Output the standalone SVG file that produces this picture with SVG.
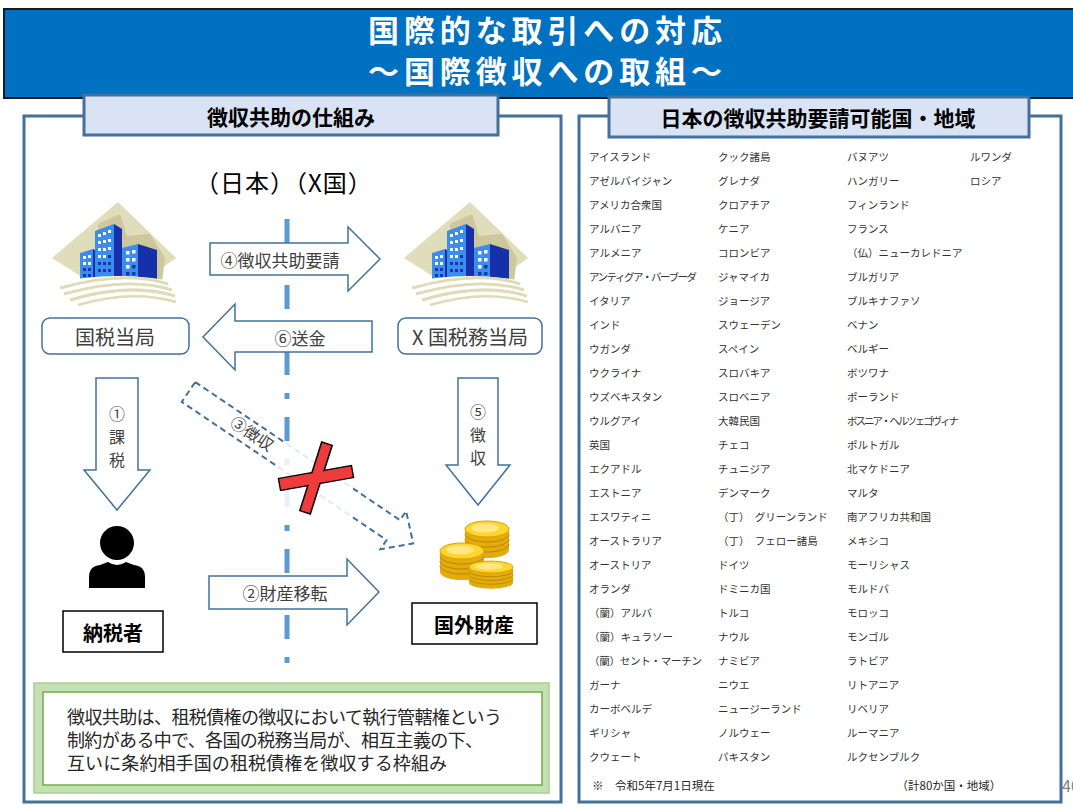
<svg xmlns="http://www.w3.org/2000/svg" xmlns:xlink="http://www.w3.org/1999/xlink" width="1073" height="810" viewBox="0 0 1073 810">
  <style>
    text { font-family: "Noto Sans CJK JP", "Noto Sans", sans-serif; dominant-baseline: central; }
    .title { fill: #FFFFFF; font-weight: bold; font-size: 31px; text-anchor: middle; }
    .tab-box { fill: #DAE3F3; stroke: #41719C; stroke-width: 3; }
    .tab-text { fill: #000000; font-weight: bold; font-size: 21px; text-anchor: middle; }
    .panel { fill: none; stroke: #41719C; stroke-width: 3; }
    .block-arrow { fill: #FFFFFF; stroke: #41719C; stroke-width: 1.5; stroke-linejoin: miter; }
    .arrow-label { fill: #404040; font-size: 17px; text-anchor: middle; }
    .v-label { fill: #404040; font-size: 16px; text-anchor: middle; }
    .label-box { fill: #FFFFFF; stroke: #41719C; stroke-width: 1.5; }
    .label-text { fill: #404040; font-size: 20px; text-anchor: middle; }
    .plain-box { fill: #FFFFFF; stroke: #000000; stroke-width: 1.5; }
    .plain-text { fill: #000000; font-size: 20px; font-weight: bold; text-anchor: middle; }
    .country { fill: #333333; font-size: 10.5px; }
    .note { fill: #262626; font-size: 18px; }
    .win { fill: #FFFFFF; }
    .win-d { fill: #1A35B0; }
  </style>
  <defs>
    <!-- office building pictogram, drawn at the left position -->
    <g id="office-icon">
      <polygon points="118,202 176,258 118,300 52,258" fill="#E0DDBB"/>
      <path d="M98,224 L120,214 L127,236 L150,234 L165,258 L162,282 L98,282 Z" fill="#CCC89C"/>
      <!-- left block -->
      <polygon points="80,253 93,249 93,281 80,281" fill="#3C8CF0"/>
      <polygon points="93,249 97,251 97,281 93,281" fill="#1530A8"/>
      <rect class="win" x="83" y="256" width="3" height="3"/><rect class="win" x="88" y="255" width="3" height="3"/>
      <rect class="win" x="83" y="262" width="3" height="3"/><rect class="win" x="88" y="262" width="3" height="3"/>
      <rect class="win-d" x="83" y="268" width="3" height="3"/><rect class="win-d" x="88" y="268" width="3" height="3"/>
      <rect class="win-d" x="83" y="274" width="3" height="3"/><rect class="win-d" x="88" y="274" width="3" height="3"/>
      <!-- tall block -->
      <polygon points="95,231 114,224 114,281 95,281" fill="#3C8CF0"/>
      <polygon points="114,224 122,229 122,281 114,281" fill="#1530A8"/>
      <rect class="win" x="98" y="234" width="3" height="3"/><rect class="win" x="103" y="232" width="3" height="3"/><rect class="win" x="108" y="230" width="3" height="3"/>
      <rect class="win" x="98" y="241" width="3" height="3"/><rect class="win" x="103" y="240" width="3" height="3"/><rect class="win" x="108" y="239" width="3" height="3"/>
      <rect class="win" x="98" y="248" width="3" height="3"/><rect class="win" x="103" y="248" width="3" height="3"/><rect class="win" x="108" y="247" width="3" height="3"/>
      <rect class="win" x="98" y="255" width="3" height="3"/><rect class="win" x="103" y="255" width="3" height="3"/><rect class="win-d" x="108" y="255" width="3" height="3"/>
      <rect class="win-d" x="98" y="262" width="3" height="3"/><rect class="win-d" x="103" y="262" width="3" height="3"/><rect class="win-d" x="108" y="262" width="3" height="3"/>
      <rect class="win-d" x="98" y="269" width="3" height="3"/><rect class="win-d" x="103" y="269" width="3" height="3"/><rect class="win-d" x="108" y="269" width="3" height="3"/>
      <!-- right block -->
      <polygon points="122,248 138,244 138,281 122,281" fill="#3C8CF0"/>
      <polygon points="138,244 157,250 157,282 138,281" fill="#1530A8"/>
      <rect class="win" x="126" y="251" width="3.5" height="3.5"/><rect class="win" x="132" y="250" width="3.5" height="3.5"/>
      <rect class="win" x="126" y="258" width="3.5" height="3.5"/><rect class="win" x="132" y="258" width="3.5" height="3.5"/>
      <rect class="win" x="126" y="265" width="3.5" height="3.5"/><rect class="win-d" x="132" y="265" width="3.5" height="3.5"/>
      <rect class="win-d" x="126" y="272" width="3.5" height="3.5"/><rect class="win-d" x="132" y="272" width="3.5" height="3.5"/>
      <!-- ground -->
      <path d="M50,300 L50,284 Q118,268 186,284 L186,300 Z" fill="#FFFFFF"/>
      <path d="M60,288 Q125,270 168,284" fill="none" stroke="#DEDBB6" stroke-width="3"/>
      <path d="M64,294 Q128,276 172,290" fill="none" stroke="#DEDBB6" stroke-width="3"/>
      <path d="M70,300 Q130,282 175,296" fill="none" stroke="#DEDBB6" stroke-width="3"/>
      <path d="M78,305 Q132,289 176,302" fill="none" stroke="#DEDBB6" stroke-width="2.5"/>
    </g>
    <!-- stack of coins, top face centred at 0,0 -->
    <g id="coin-stack">
      <path d="M-22,0 V21 A22,8 0 0 0 22,21 V0 Z" fill="#E3AC0C"/>
      <path d="M-22,5 A22,8 0 0 0 22,5 M-22,10 A22,8 0 0 0 22,10 M-22,15 A22,8 0 0 0 22,15" fill="none" stroke="#B88400" stroke-width="1"/>
      <ellipse cx="0" cy="0" rx="22" ry="8" fill="#FFD52E" stroke="#D9A000" stroke-width="1"/>
      <ellipse cx="-2" cy="-1" rx="14" ry="4.5" fill="#FFE884"/>
    </g>
  </defs>

  <!-- header band -->
  <g id="header">
    <rect x="4" y="9" width="1075" height="89" fill="#0070C0" stroke="#1A1A1A" stroke-width="2"/>
    <text class="title" x="545" y="28" textLength="354">国際的な取引への対応</text>
    <text class="title" x="545" y="69" textLength="354">～国際徴収への取組～</text>
  </g>

  <!-- left panel frame -->
  <g id="panel-mechanism">
    <rect class="panel" x="24" y="116" width="537" height="686"/>
    <rect class="tab-box" x="84" y="95" width="414" height="40"/>
    <text class="tab-text" x="291" y="116">徴収共助の仕組み</text>
    <text x="284" y="181" font-size="24" fill="#000000" text-anchor="middle" letter-spacing="1">（日本）（X国）</text>
  </g>

  <!-- right panel frame -->
  <g id="panel-countries">
    <rect class="panel" x="579" y="116" width="482" height="686"/>
    <rect class="tab-box" x="609" y="97" width="420" height="40"/>
    <text class="tab-text" x="818" y="117" font-size="22">日本の徴収共助要請可能国・地域</text>
  </g>

  <!-- border line between the two jurisdictions -->
  <line id="border-line" x1="287" y1="219" x2="287" y2="663" stroke="#5B9BD5" stroke-width="5" stroke-dasharray="24 18 6 18"/>

  <!-- connectors -->
  <g id="connectors">
    <g id="arrow-request">
      <path class="block-arrow" d="M210,243 H348 V227 L380,259 L348,291 V275 H210 Z"/>
      <text class="arrow-label" x="280" y="259">④徴収共助要請</text>
    </g>
    <g id="arrow-remit">
      <path class="block-arrow" d="M372,321 H235 V304 L203,337 L235,370 V352 H372 Z"/>
      <text class="arrow-label" x="300" y="337">⑥送金</text>
    </g>
    <g id="arrow-transfer">
      <path class="block-arrow" d="M209,576 H347 V559 L379,592 L347,625 V609 H209 Z"/>
      <text class="arrow-label" x="285" y="592">②財産移転</text>
    </g>
    <g id="arrow-assess">
      <path class="block-arrow" d="M96,378 H138 V470 H150 L117,510 L84,470 H96 Z"/>
      <text class="v-label" x="117" y="413">①</text>
      <text class="v-label" x="117" y="436">課</text>
      <text class="v-label" x="117" y="459">税</text>
    </g>
    <g id="arrow-collect">
      <path class="block-arrow" d="M458,378 H498 V465 H510 L478,505 L446,465 H458 Z"/>
      <text class="v-label" x="478" y="411">⑤</text>
      <text class="v-label" x="478" y="434">徴</text>
      <text class="v-label" x="478" y="457">収</text>
    </g>
    <g id="arrow-direct-collect" transform="translate(188.5,392) rotate(34)">
      <path d="M0,-12 H247 V-23 L271,0 L247,23 V12 H0 Z" fill="none" stroke="#41719C" stroke-width="2" stroke-dasharray="6 4"/>
      <text x="76" y="-2" font-size="16" fill="#404040" text-anchor="middle">③徴収</text>
    </g>
    <!-- cross mark: direct collection not allowed -->
    <g id="cross-mark">
      <rect x="277" y="442" width="76" height="74" fill="#FFFFFF" fill-opacity="0.85"/>
      <g transform="translate(316,478)">
        <rect x="-37" y="-6" width="74" height="12" transform="rotate(-10)" fill="#EE3B3B" stroke="#000" stroke-width="1.5"/>
        <rect x="-36" y="-5.5" width="72" height="11" transform="rotate(107.7)" fill="#EE3B3B" stroke="#000" stroke-width="1.5"/>
        <rect x="-36.2" y="-5.2" width="72.4" height="10.4" transform="rotate(-10)" fill="#EE3B3B"/>
      </g>
    </g>
  </g>

  <!-- nodes -->
  <g id="node-nta">
    <use xlink:href="#office-icon"/>
    <rect class="label-box" x="42" y="318" width="147" height="36" rx="8"/>
    <text class="label-text" x="115" y="336">国税当局</text>
  </g>

  <g id="node-foreign-authority">
    <use xlink:href="#office-icon" transform="translate(352,0)"/>
    <rect class="label-box" x="398" y="318" width="144" height="36" rx="8"/>
    <text class="label-text" x="470" y="336">X 国税務当局</text>
  </g>

  <g id="node-taxpayer">
    <circle cx="117" cy="543" r="17" fill="#000000"/>
    <path d="M89,588 V577 Q89,566 100,565 L108,562 Q117,568 126,562 L134,565 Q145,566 145,577 V588 Z" fill="#000000"/>
    <rect class="plain-box" x="63" y="611" width="100" height="41"/>
    <text class="plain-text" x="113" y="632">納税者</text>
  </g>

  <g id="node-foreign-assets">
    <use xlink:href="#coin-stack" transform="translate(487,529)"/>
    <use xlink:href="#coin-stack" transform="translate(462,551)"/>
    <use xlink:href="#coin-stack" transform="translate(491,567) scale(1,0.75)"/>
    <rect class="plain-box" x="412" y="603" width="125" height="41"/>
    <text class="plain-text" x="474" y="624">国外財産</text>
  </g>

  <!-- definition box -->
  <g id="definition">
    <rect x="34" y="683" width="515" height="110" fill="#C5E0B4" stroke="#A9D18E" stroke-width="1.5"/>
    <rect x="43" y="692" width="499" height="93" fill="#FFFFFF" stroke="#70AD47" stroke-width="1.5"/>
    <text class="note" x="67" y="716" textLength="435">徴収共助は、租税債権の徴収において執行管轄権という</text>
    <text class="note" x="67" y="739" textLength="416">制約がある中で、各国の税務当局が、相互主義の下、</text>
    <text class="note" x="67" y="762" textLength="380">互いに条約相手国の租税債権を徴収する枠組み</text>
  </g>

  <!-- list of partner jurisdictions -->
  <g id="country-list" class="country">
    <text class="country" x="589" y="156">アイスランド</text>
    <text class="country" x="589" y="180">アゼルバイジャン</text>
    <text class="country" x="589" y="204">アメリカ合衆国</text>
    <text class="country" x="589" y="228">アルバニア</text>
    <text class="country" x="589" y="252">アルメニア</text>
    <text class="country" x="589" y="276" textLength="108">アンティグア・バーブーダ</text>
    <text class="country" x="589" y="300">イタリア</text>
    <text class="country" x="589" y="324">インド</text>
    <text class="country" x="589" y="348">ウガンダ</text>
    <text class="country" x="589" y="372">ウクライナ</text>
    <text class="country" x="589" y="396">ウズベキスタン</text>
    <text class="country" x="589" y="420">ウルグアイ</text>
    <text class="country" x="589" y="444">英国</text>
    <text class="country" x="589" y="468">エクアドル</text>
    <text class="country" x="589" y="492">エストニア</text>
    <text class="country" x="589" y="516">エスワティニ</text>
    <text class="country" x="589" y="540">オーストラリア</text>
    <text class="country" x="589" y="564">オーストリア</text>
    <text class="country" x="589" y="588">オランダ</text>
    <text class="country" x="589" y="612">（蘭）アルバ</text>
    <text class="country" x="589" y="636">（蘭）キュラソー</text>
    <text class="country" x="589" y="660" textLength="113">（蘭）セント・マーチン</text>
    <text class="country" x="589" y="684">ガーナ</text>
    <text class="country" x="589" y="708">カーボベルデ</text>
    <text class="country" x="589" y="732">ギリシャ</text>
    <text class="country" x="589" y="756">クウェート</text>

    <text class="country" x="718" y="156">クック諸島</text>
    <text class="country" x="718" y="180">グレナダ</text>
    <text class="country" x="718" y="204">クロアチア</text>
    <text class="country" x="718" y="228">ケニア</text>
    <text class="country" x="718" y="252">コロンビア</text>
    <text class="country" x="718" y="276">ジャマイカ</text>
    <text class="country" x="718" y="300">ジョージア</text>
    <text class="country" x="718" y="324">スウェーデン</text>
    <text class="country" x="718" y="348">スペイン</text>
    <text class="country" x="718" y="372">スロバキア</text>
    <text class="country" x="718" y="396">スロベニア</text>
    <text class="country" x="718" y="420">大韓民国</text>
    <text class="country" x="718" y="444">チェコ</text>
    <text class="country" x="718" y="468">チュニジア</text>
    <text class="country" x="718" y="492">デンマーク</text>
    <text class="country" x="718" y="516">（丁）　グリーンランド</text>
    <text class="country" x="718" y="540">（丁）　フェロー諸島</text>
    <text class="country" x="718" y="564">ドイツ</text>
    <text class="country" x="718" y="588">ドミニカ国</text>
    <text class="country" x="718" y="612">トルコ</text>
    <text class="country" x="718" y="636">ナウル</text>
    <text class="country" x="718" y="660">ナミビア</text>
    <text class="country" x="718" y="684">ニウエ</text>
    <text class="country" x="718" y="708">ニュージーランド</text>
    <text class="country" x="718" y="732">ノルウェー</text>
    <text class="country" x="718" y="756">パキスタン</text>

    <text class="country" x="847" y="156">バヌアツ</text>
    <text class="country" x="847" y="180">ハンガリー</text>
    <text class="country" x="847" y="204">フィンランド</text>
    <text class="country" x="847" y="228">フランス</text>
    <text class="country" x="847" y="252">（仏）ニューカレドニア</text>
    <text class="country" x="847" y="276">ブルガリア</text>
    <text class="country" x="847" y="300">ブルキナファソ</text>
    <text class="country" x="847" y="324">ベナン</text>
    <text class="country" x="847" y="348">ベルギー</text>
    <text class="country" x="847" y="372">ボツワナ</text>
    <text class="country" x="847" y="396">ポーランド</text>
    <text class="country" x="847" y="420" textLength="112">ボスニア・ヘルツェゴヴィナ</text>
    <text class="country" x="847" y="444">ポルトガル</text>
    <text class="country" x="847" y="468">北マケドニア</text>
    <text class="country" x="847" y="492">マルタ</text>
    <text class="country" x="847" y="516">南アフリカ共和国</text>
    <text class="country" x="847" y="540">メキシコ</text>
    <text class="country" x="847" y="564">モーリシャス</text>
    <text class="country" x="847" y="588">モルドバ</text>
    <text class="country" x="847" y="612">モロッコ</text>
    <text class="country" x="847" y="636">モンゴル</text>
    <text class="country" x="847" y="660">ラトビア</text>
    <text class="country" x="847" y="684">リトアニア</text>
    <text class="country" x="847" y="708">リベリア</text>
    <text class="country" x="847" y="732">ルーマニア</text>
    <text class="country" x="847" y="756">ルクセンブルク</text>

    <text class="country" x="970" y="156">ルワンダ</text>
    <text class="country" x="970" y="180">ロシア</text>

    <text x="592" y="785" font-size="11.5" fill="#262626">※　令和5年7月1日現在</text>
    <text x="949" y="785" font-size="11.5" fill="#262626" text-anchor="middle">（計80か国・地域）</text>
  </g>

  <!-- page number, partly outside the page edge -->
  <text x="1062" y="785" font-size="16" fill="#7F7F7F" font-family="Liberation Sans, sans-serif">40</text>
</svg>
